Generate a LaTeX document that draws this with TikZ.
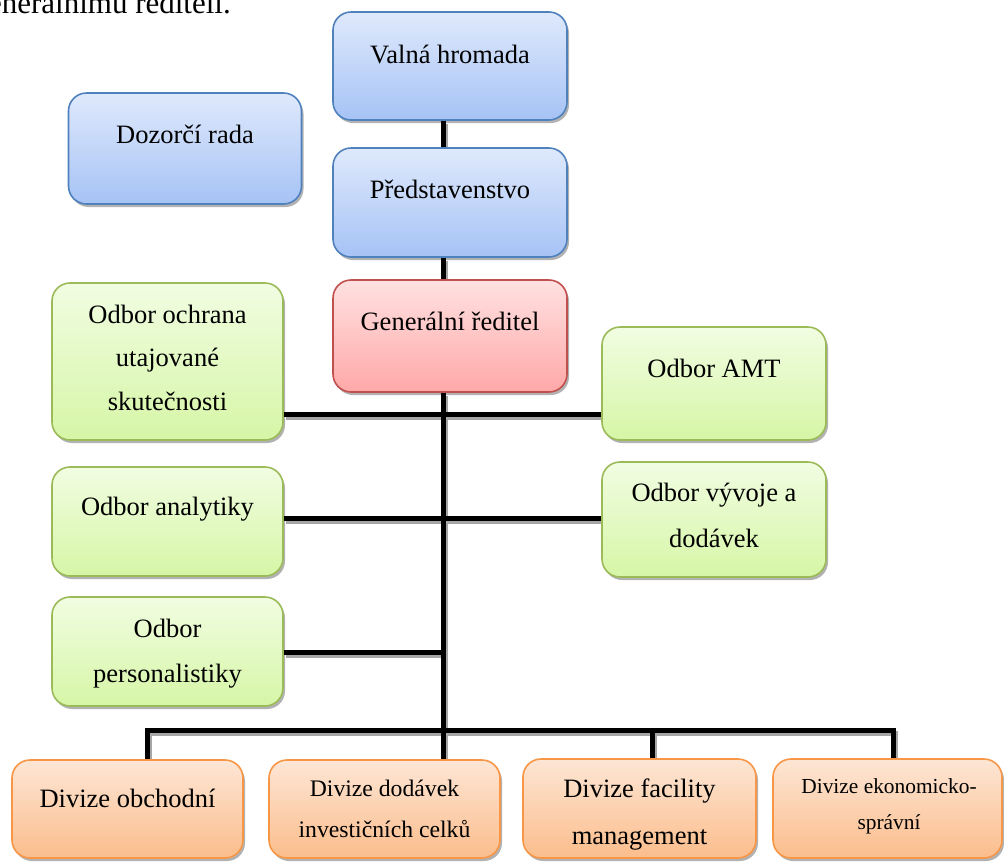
\documentclass[tikz,border=0pt]{standalone}
\usepackage{fontspec}
\setmainfont{Liberation Serif}
\usetikzlibrary{shadows,backgrounds,calc}

\definecolor{blueEdge}{HTML}{4F81BD}
\definecolor{blueTop}{HTML}{DFE9FC}
\definecolor{blueBot}{HTML}{A6C3F5}
\definecolor{greenEdge}{HTML}{9BBB59}
\definecolor{greenTop}{HTML}{F1FDE2}
\definecolor{greenBot}{HTML}{D6F6A6}
\definecolor{redEdge}{HTML}{C0504D}
\definecolor{redTop}{HTML}{FFE1E1}
\definecolor{redBot}{HTML}{FFA8A8}
\definecolor{orangeEdge}{HTML}{F79646}
\definecolor{orangeTop}{HTML}{FDE6D5}
\definecolor{orangeBot}{HTML}{FBBD8C}

\tikzset{
  orgbox/.style={rectangle, rounded corners=18pt, line width=1.6pt, inner sep=0pt,
    drop shadow={shadow xshift=2pt, shadow yshift=-3pt, fill=black, opacity=0.3}},
  bluebox/.style={orgbox, draw=blueEdge, top color=blueTop, bottom color=blueBot},
  greenbox/.style={orgbox, draw=greenEdge, top color=greenTop, bottom color=greenBot},
  redbox/.style={orgbox, draw=redEdge, top color=redTop, bottom color=redBot},
  orangebox/.style={orgbox, draw=orangeEdge, top color=orangeTop, bottom color=orangeBot},
  boxtext/.style={anchor=north, inner sep=0pt, align=center},
  wire/.style={line width=5pt, draw=black},
}

% all connector lines of the chart
\newcommand\orgwires{%
  \draw[wire] (vh.south -| t) -- (pr.north -| t);
  \draw[wire] (pr.south -| t) -- (gr.north -| t);
  \draw[wire] (gr.south -| t) -- (dod.north -| t);
  \draw[wire] (och.east |- r1) -- (amt.west |- r1);
  \draw[wire] (ana.east |- r2) -- (vyv.west |- r2);
  \draw[wire] (per.east |- r3) -- (r3);
  \draw[wire] (obch.north -| busL) -- (busL) -- (busR) -- (eko.north -| busR);
  \draw[wire] (busF) -- (fac.north -| busF);
}

\begin{document}
\begin{tikzpicture}[x=1pt, y=-1pt]
\useasboundingbox (0,0) rectangle (1004,863);
\clip (0,0) rectangle (1004,863);

% line of running text above the chart
\node[anchor=base east, inner sep=0pt, font=\fontsize{31}{37}\selectfont] (intro) at (231,13) {generálnímu řediteli.};

% boxes
\node[bluebox, minimum width=234pt, minimum height=108pt] (vh) at (450,66) {};
\node[bluebox, minimum width=234pt, minimum height=109pt] (pr) at (450,202.5) {};
\node[bluebox, minimum width=233pt, minimum height=111pt] (dr) at (185,148.5) {};
\node[redbox, minimum width=234pt, minimum height=112pt] (gr) at (450,336) {};
\node[greenbox, minimum width=231pt, minimum height=157pt] (och) at (167.5,361.5) {};
\node[greenbox, minimum width=224pt, minimum height=113pt] (amt) at (714,383.5) {};
\node[greenbox, minimum width=231pt, minimum height=109pt] (ana) at (167.5,521.5) {};
\node[greenbox, minimum width=224pt, minimum height=115pt] (vyv) at (714,519.5) {};
\node[greenbox, minimum width=231pt, minimum height=109pt] (per) at (167.5,651.5) {};
\node[orangebox, minimum width=231pt, minimum height=98pt] (obch) at (127.5,809) {};
\node[orangebox, minimum width=231pt, minimum height=98pt] (dod) at (384.5,809) {};
\node[orangebox, minimum width=233pt, minimum height=99pt] (fac) at (639.5,808.5) {};
\node[orangebox, minimum width=229pt, minimum height=99pt] (eko) at (887.5,808.5) {};

% box texts (first baseline minus 0.7 baselineskip)
\node[boxtext, font=\fontsize{26.5}{43}\selectfont] (vh-t) at (450,{63-30.1}) {\strut Valná hromada};
\node[boxtext, font=\fontsize{26.5}{43}\selectfont] (pr-t) at (450,{198-30.1}) {\strut Představenstvo};
\node[boxtext, font=\fontsize{26.5}{43}\selectfont] (dr-t) at (185,{143-30.1}) {\strut Dozorčí rada};
\node[boxtext, font=\fontsize{26.5}{43}\selectfont] (gr-t) at (450,{330-30.1}) {\strut Generální ředitel};
\node[boxtext, font=\fontsize{26.5}{43.5}\selectfont] (och-t) at (167.5,{323-30.45}) {\strut Odbor ochrana\\utajované\\skutečnosti};
\node[boxtext, font=\fontsize{26.5}{43}\selectfont] (amt-t) at (714,{377-30.1}) {\strut Odbor AMT};
\node[boxtext, font=\fontsize{26.5}{43}\selectfont] (ana-t) at (167.5,{515-30.1}) {\strut Odbor analytiky};
\node[boxtext, font=\fontsize{26.5}{46}\selectfont] (vyv-t) at (714,{501-32.2}) {\strut Odbor vývoje a\\dodávek};
\node[boxtext, font=\fontsize{26.5}{45}\selectfont] (per-t) at (167.5,{637-31.5}) {\strut Odbor\\personalistiky};
\node[boxtext, font=\fontsize{26.5}{43}\selectfont] (obch-t) at (127.5,{807-30.1}) {\strut Divize obchodní};
\node[boxtext, font=\fontsize{23.7}{41.3}\selectfont] (dod-t) at (384.5,{796-28.91}) {\strut Divize dodávek\\investičních celků};
\node[boxtext, font=\fontsize{26.5}{47}\selectfont] (fac-t) at (639.5,{797-32.9}) {\strut Divize facility\\management};
\node[boxtext, font=\fontsize{21.4}{36}\selectfont] (eko-t) at (889,{793-25.2}) {\strut Divize ekonomicko-\\správní};

% junction points of the connector tree
\coordinate (t) at (443,0);
\coordinate (r1) at (443,414);
\coordinate (r2) at (443,518);
\coordinate (r3) at (443,652);
\coordinate (busL) at (147,730);
\coordinate (busF) at (652,730);
\coordinate (busR) at (893,730);

\begin{scope}[on background layer]
  \begin{scope}[transform canvas={shift={(2pt,-3pt)}}, wire/.append style={draw=black!35}]
    \orgwires
  \end{scope}
  \orgwires
\end{scope}
\end{tikzpicture}
\end{document}
